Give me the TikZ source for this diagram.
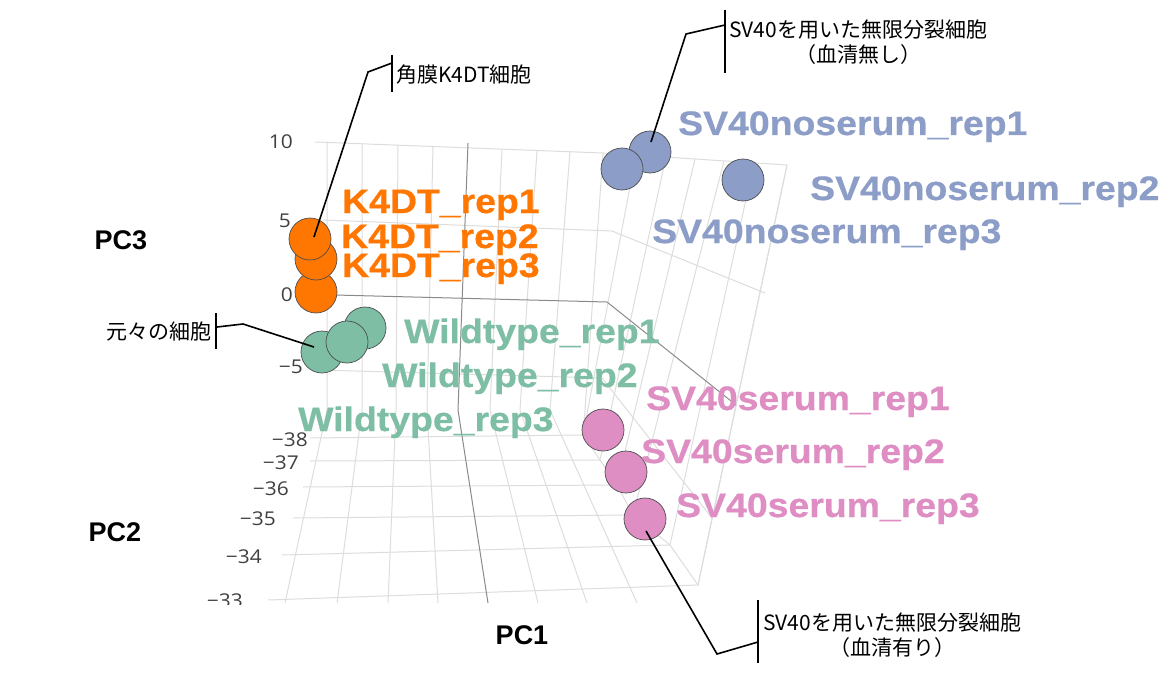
\documentclass[tikz,border=0pt]{standalone}
\usepackage{fontspec}
\setmainfont{Liberation Sans}
\newfontfamily\labelfont[FakeStretch=1.1, BoldFeatures={FakeBold=0.6}]{Liberation Sans}
\newfontfamily\tickfont[FakeStretch=1.1]{Open Sans}
\newfontfamily\jpfont{Noto Sans CJK JP}
\usetikzlibrary{calc}
\definecolor{korange}{HTML}{FF7700}
\definecolor{wgreen}{HTML}{7DBEA5}
\definecolor{nblue}{HTML}{8C9DC8}
\definecolor{spink}{HTML}{DE8EC3}
\definecolor{gridgray}{HTML}{DDDDDD}
\definecolor{zerogray}{HTML}{8A8A8A}

\begin{document}
\begin{tikzpicture}[x=1pt, y=-1pt,
  grid/.style={gridgray, line width=1pt},
  zero/.style={zerogray, line width=1pt},
  ticklab/.style={anchor=east, inner sep=0pt, text=black!75, font=\tickfont\fontsize{19}{19}\selectfont},
  axislab/.style={inner sep=0pt, font=\bfseries\fontsize{27}{27}\selectfont},
  dot/.style={circle, draw=black!70, line width=0.7pt, minimum size=42pt, inner sep=0pt},
  sample/.style={anchor=base west, inner sep=0pt, font=\labelfont\bfseries\fontsize{34}{34}\selectfont},
  note/.style={inner sep=0pt, align=center, font=\jpfont\fontsize{21}{25}\selectfont},
  leader/.style={black, line width=1.6pt},
]
\useasboundingbox (0,0) rectangle (1166,674);
\fill[white] (0,0) rectangle (1166,674);

% PC1 lines: back wall, then floor
\foreach \xt/\yt/\xm/\xb in {327/142/327/285, 362/143/362/337, 398/145/396/388, 433/146/427/438,
                            502/149/490/538, 537/150/520/587, 570/151/550/637}
  \draw[grid] (\xt,\yt) -- (\xm,410) -- (\xb,603);
\draw[grid] (603,153) -- (585,410) -- (583,435) -- (600,460) -- (617,485) -- (633,515) -- (670,545) -- (698,585);
\draw[grid] (787,165) -- (698,585);

% PC3 levels
\draw[grid] (315,142) -- (603,153) -- (787,165);
\draw[grid] (323,220) -- (612,231) -- (765,293);
\draw[grid] (320,370) -- (602,378) -- (712,518);

% PC2 levels, floor and side wall
\foreach \xl/\yl/\xr/\yr/\xt/\yt in {310/438/583/435/636/155, 310/461/600/460/666/157, 303/487/617/485/695/159,
                                    293/518/633/515/724/161, 282/555/670/545/754/163, 268/600/698/585/787/165}
  \draw[grid] (\xl,\yl) -- (\xr,\yr) -- (\xt,\yt);

% zero lines
\draw[zero] (335,295) -- (607,302) -- (736,405);
\draw[zero] (468,143) -- (458,410) -- (488,603);

% ticks
\node[ticklab] (t10) at (293,142) {10};
\node[ticklab] (t5) at (291,221) {5};
\node[ticklab] (t0) at (293,295) {0};
\node[ticklab] (tm5) at (303,367) {−5};
\node[ticklab] (tm38) at (308,440) {−38};
\node[ticklab] (tm37) at (299,463) {−37};
\node[ticklab] (tm36) at (289,489) {−36};
\node[ticklab] (tm35) at (276,519) {−35};
\node[ticklab] (tm34) at (262,557) {−34};
\begin{scope}
  \clip (0,0) rectangle (1166,604);
  \node[ticklab] (tm33) at (243,601) {−33};
\end{scope}

\node[axislab] (pc3) at (121,240) {PC3};
\node[axislab] (pc2) at (115,532) {PC2};
\node[axislab] (pc1) at (522,635) {PC1};

% samples
\node[dot, fill=korange] (k3) at (316,292) {};
\node[dot, fill=korange] (k2) at (316,259) {};
\node[dot, fill=korange] (k1) at (310,239) {};
\node[dot, fill=wgreen] (w1) at (365,328) {};
\node[dot, fill=wgreen] (w3) at (322,352) {};
\node[dot, fill=wgreen] (w2) at (347,342) {};
\node[dot, fill=nblue] (n1) at (650,152) {};
\node[dot, fill=nblue] (n2) at (622,169) {};
\node[dot, fill=nblue] (n3) at (743,180) {};
\node[dot, fill=spink] (s1) at (603,430) {};
\node[dot, fill=spink] (s2) at (626,472) {};
\node[dot, fill=spink] (s3) at (645,519) {};

\node[sample, korange] (k1lab) at (342,213) {K4DT\_rep1};
\node[sample, korange] (k2lab) at (341,248) {K4DT\_rep2};
\node[sample, korange] (k3lab) at (342,277) {K4DT\_rep3};
\node[sample, nblue] (n1lab) at (678,135) {SV40noserum\_rep1};
\node[sample, nblue] (n2lab) at (810,200) {SV40noserum\_rep2};
\node[sample, nblue] (n3lab) at (652,243) {SV40noserum\_rep3};
\node[sample, wgreen] (w1lab) at (404,343) {Wildtype\_rep1};
\node[sample, wgreen] (w2lab) at (382,387) {Wildtype\_rep2};
\node[sample, wgreen] (w3lab) at (298,431) {Wildtype\_rep3};
\node[sample, spink] (s1lab) at (646,410) {SV40serum\_rep1};
\node[sample, spink] (s2lab) at (641,463) {SV40serum\_rep2};
\node[sample, spink] (s3lab) at (676,517) {SV40serum\_rep3};

% call-outs
\node[note, anchor=west] (knote) at (396,75) {角膜K4DT細胞};
\coordinate (kbend) at (368,72);
\coordinate (kjoin) at (392,63);
\draw[leader] ($(k1)+(4,-2)$) -- (kbend) -- (kjoin);
\draw[leader] (392,55) coordinate (kbartop) -- (392,92) coordinate (kbarbot);

\node[note, anchor=west] (nnote) at (729,42) {SV40を用いた無限分裂細胞\\（血清無し）};
\coordinate (nbend) at (686,34);
\coordinate (njoin) at (725,25);
\draw[leader] ($(n1)+(1,-10)$) -- (nbend) -- (njoin);
\draw[leader] (725,10) coordinate (nbartop) -- (725,73) coordinate (nbarbot);

\node[note, anchor=west] (snote) at (763,635) {SV40を用いた無限分裂細胞\\（血清有り）};
\coordinate (sbend) at (717,654);
\coordinate (sjoin) at (758,642);
\draw[leader] ($(s3)+(1,12)$) -- (sbend) -- (sjoin);
\draw[leader] (758,600) coordinate (sbartop) -- (758,663) coordinate (sbarbot);

\node[note, anchor=east] (wnote) at (212,332) {元々の細胞};
\coordinate (wbend) at (243,324);
\coordinate (wjoin) at (217,327);
\draw[leader] ($(w3)+(-8,-5)$) -- (wbend) -- (wjoin);
\draw[leader] (216,313) coordinate (wbartop) -- (216,349) coordinate (wbarbot);
\end{tikzpicture}
\end{document}
